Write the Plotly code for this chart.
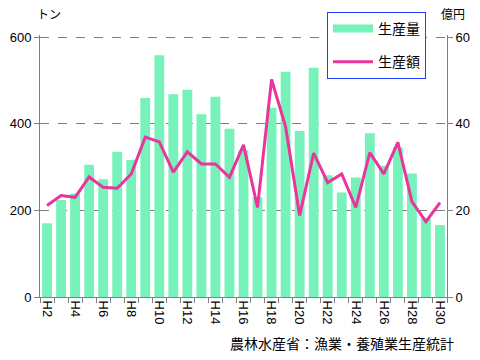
import plotly.graph_objects as go

years = ["H" + str(i) for i in range(2, 31)]
production_t = [170, 224, 239, 305, 272, 335, 316, 459, 558, 468, 478, 422, 462, 388, 339,
                230, 437, 520, 383, 529, 281, 241, 276, 378, 303, 345, 285, 182, 166]
value_oku = [21.1, 23.4, 23.0, 27.7, 25.3, 25.1, 28.4, 36.9, 35.8, 28.8, 33.5, 30.7, 30.7, 27.6, 35.1,
             20.7, 50.2, 39.3, 18.8, 33.2, 26.4, 28.4, 20.7, 33.3, 28.4, 35.7, 22.0, 17.4, 21.8]
tick_labels = [y if i % 2 == 0 else "" for i, y in enumerate(years)]

GREEN = "#76F2BA"
PINK = "#E8369C"
JP = "Noto Sans CJK JP"
LAT = "Liberation Sans, Arial"

# plot area in pixels (for placing annotations in paper coords)
PL, PR, PT, PB = 40, 447, 35, 297
YTOP = 600 * (PB - PT) / (297 - 37)
def px(x):
    return (x - PL) / (PR - PL)
def py(y):
    return (PB - y) / (PB - PT)

fig = go.Figure()
fig.add_trace(go.Bar(x=years, y=production_t, marker_color=GREEN, marker_line_width=0,
                     name="生産量", showlegend=False, yaxis="y"))
fig.add_trace(go.Scatter(x=[None], y=[None], mode="lines", name="生産量",
                         line=dict(color=GREEN, width=8), legendgroup="a", yaxis="y"))
fig.add_trace(go.Scatter(x=years, y=value_oku, mode="lines", name="生産額",
                         line=dict(color=PINK, width=3), legendgroup="b", yaxis="y2"))

fig.update_layout(
    width=480, height=360,
    margin=dict(l=PL, r=480 - PR, t=PT, b=360 - PB, autoexpand=False),
    plot_bgcolor="white", paper_bgcolor="white",
    bargap=0.3,
    showlegend=True,
    legend=dict(x=px(327), y=py(12), xref="paper", yref="paper", xanchor="left", yanchor="top",
                bordercolor="#2040FF", borderwidth=1, bgcolor="white",
                font=dict(family=JP, size=14, color="black"), tracegroupgap=12,
                itemwidth=40),
    xaxis=dict(type="category", tickmode="array", tickvals=years, ticktext=tick_labels,
               tickangle=90, tickson="boundaries", ticks="outside", ticklen=5, tickcolor="#808080",
               showline=True, linecolor="#808080", linewidth=1, showgrid=False,
               tickfont=dict(family=LAT, size=13, color="black"), range=[-0.5, 28.5]),
    yaxis=dict(range=[0, YTOP], tickvals=[0, 200, 400, 600], showgrid=True, gridcolor="#808080",
               griddash="dash", gridwidth=1, showline=True, linecolor="#808080", ticks="outside",
               ticklen=5, tickcolor="#808080", zeroline=False,
               tickfont=dict(family=LAT, size=13, color="black")),
    yaxis2=dict(range=[0, YTOP / 10], tickvals=[0, 20, 40, 60], overlaying="y", side="right",
                showgrid=False, showline=True, linecolor="#808080", ticks="outside", ticklen=5,
                tickcolor="#808080", zeroline=False,
                tickfont=dict(family=LAT, size=13, color="black")),
)

fig.add_annotation(text="トン", x=px(35), y=py(14), xref="paper", yref="paper",
                   xanchor="left", yanchor="middle", showarrow=False,
                   font=dict(family=JP, size=12, color="black"))
fig.add_annotation(text="億円", x=px(439), y=py(14), xref="paper", yref="paper",
                   xanchor="left", yanchor="middle", showarrow=False,
                   font=dict(family=JP, size=12, color="black"))
fig.add_annotation(text="農林水産省：漁業・養殖業生産統計", x=px(456), y=py(343),
                   xref="paper", yref="paper", xanchor="right", yanchor="middle", showarrow=False,
                   font=dict(family=JP, size=14, color="black"))

fig.write_html("out.html", config={"displayModeBar": False},
               post_script="document.body.style.margin='0';document.body.style.overflow='hidden';")
